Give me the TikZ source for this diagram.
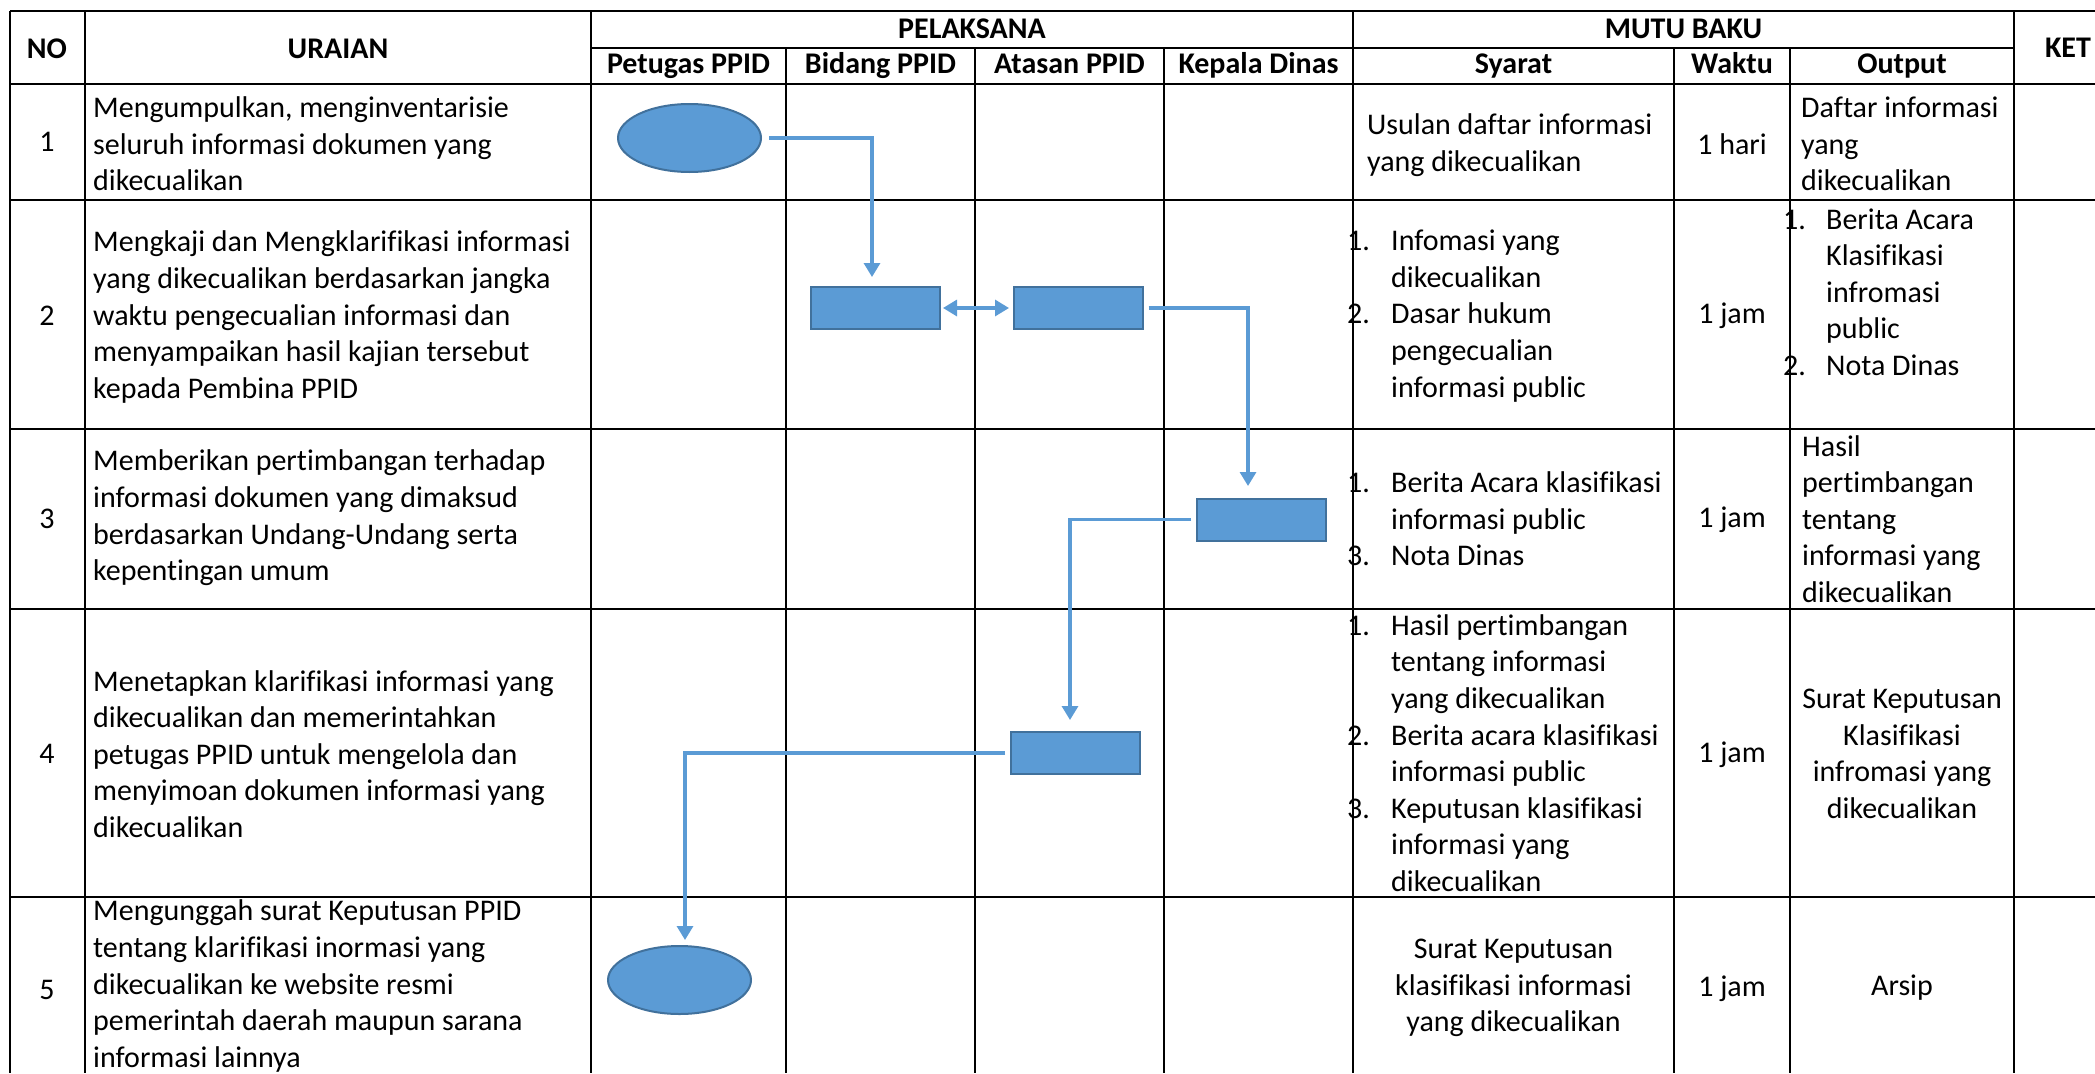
\documentclass[tikz,border=0pt]{standalone}
\usepackage{fontspec}
\setmainfont{Carlito}[Ligatures=NoCommon]
\usetikzlibrary{shapes.geometric,arrows.meta}
\definecolor{boxfill}{HTML}{5B9BD5}
\definecolor{boxline}{HTML}{41719C}
\newcommand\itemno[1]{\makebox[44pt][l]{#1}}
\newcommand\itemind{\hspace*{44pt}}
\begin{document}
\begin{tikzpicture}[x=1pt,y=-1pt,
  txt/.style={font=\fontsize{30}{36.6}\selectfont, inner sep=0pt, align=left, anchor=west},
  ctxt/.style={font=\fontsize{30}{36.6}\selectfont, inner sep=0pt, align=center},
  hdr/.style={font=\fontsize{30}{36.6}\selectfont\bfseries, inner sep=0pt, anchor=base},
  gridline/.style={line width=2pt, black},
  oval/.style={ellipse, draw=boxline, fill=boxfill, line width=2pt, minimum width=143pt, minimum height=68pt, inner sep=0pt},
  stepbox/.style={rectangle, draw=boxline, fill=boxfill, line width=2pt, minimum width=129pt, minimum height=42pt, inner sep=0pt},
  conn/.style={draw=boxfill, line width=3.2pt, -{Triangle[width=16pt,length=14pt]}},
]
\useasboundingbox (0,0) rectangle (2095,1073);
\fill[white] (0,0) rectangle (2095,1073);

% header
\node[hdr] (hNO) at (47,59) {NO};
\node[hdr] (hUR) at (338,59) {URAIAN};
\node[hdr] (hPL) at (972,38) {PELAKSANA};
\node[hdr] (hMB) at (1683.5,38) {MUTU BAKU};
\node[hdr] (hKET) at (2068,57) {KET};
\node[hdr] (hP1) at (688.5,74) {Petugas PPID};
\node[hdr] (hP2) at (880.5,74) {Bidang PPID};
\node[hdr] (hP3) at (1069.5,74) {Atasan PPID};
\node[hdr] (hP4) at (1258.5,74) {Kepala Dinas};
\node[hdr] (hM1) at (1513.5,74) {Syarat};
\node[hdr] (hM2) at (1732,74) {Waktu};
\node[hdr] (hM3) at (1902,74) {Output};

% numbers
\node[ctxt] (n1) at (47,142) {1};
\node[ctxt] (n2) at (47,316) {2};
\node[ctxt] (n3) at (47,519) {3};
\node[ctxt] (n4) at (47,754) {4};
\node[ctxt] (n5) at (47,990) {5};

% uraian
\node[txt] (u1) at (93,144) {Mengumpulkan, menginventarisie\\seluruh informasi dokumen yang\\dikecualikan};
\node[txt] (u2) at (93,317) {Mengkaji dan Mengklarifikasi informasi\\yang dikecualikan berdasarkan jangka\\waktu pengecualian informasi dan\\menyampaikan hasil kajian tersebut\\kepada Pembina PPID};
\node[txt] (u3) at (93,518) {Memberikan pertimbangan terhadap\\informasi dokumen yang dimaksud\\berdasarkan Undang-Undang serta\\kepentingan umum};
\node[txt] (u4) at (93,754) {Menetapkan klarifikasi informasi yang\\dikecualikan dan memerintahkan\\petugas PPID untuk mengelola dan\\menyimoan dokumen informasi yang\\dikecualikan};
\node[txt] (u5) at (93,986) {Mengunggah surat Keputusan PPID\\tentang klarifikasi inormasi yang\\dikecualikan ke website resmi\\pemerintah daerah maupun sarana\\informasi lainnya};

% syarat
\node[txt] (s1) at (1367,145) {Usulan daftar informasi\\yang dikecualikan};
\node[txt] (s2) at (1347,316) {\itemno{1.}Infomasi yang\\\itemind dikecualikan\\\itemno{2.}Dasar hukum\\\itemind pengecualian\\\itemind informasi public};
\node[txt] (s3) at (1347,519) {\itemno{1.}Berita Acara klasifikasi\\\itemind informasi public\\\itemno{3.}Nota Dinas};
\node[txt] (s4) at (1347,753) {\itemno{1.}Hasil pertimbangan\\\itemind tentang informasi\\\itemind yang dikecualikan\\\itemno{2.}Berita acara klasifikasi\\\itemind informasi public\\\itemno{3.}Keputusan klasifikasi\\\itemind informasi yang\\\itemind dikecualikan};
\node[ctxt] (s5) at (1513.5,988) {Surat Keputusan\\klasifikasi informasi\\yang dikecualikan};

% waktu
\node[ctxt] (w1) at (1732,144) {1 hari};
\node[ctxt] (w2) at (1732,316) {1 jam};
\node[ctxt] (w3) at (1732,520) {1 jam};
\node[ctxt] (w4) at (1732,755) {1 jam};
\node[ctxt] (w5) at (1732,989) {1 jam};

% output
\node[txt] (o1) at (1801,144) {Daftar informasi\\yang\\dikecualikan};
\node[txt] (o2) at (1783,292) {\makebox[43pt][l]{1.}Berita Acara\\\hspace*{43pt}Klasifikasi\\\hspace*{43pt}infromasi\\\hspace*{43pt}public\\\makebox[43pt][l]{2.}Nota Dinas};
\node[txt] (o3) at (1802,519) {Hasil\\pertimbangan\\tentang\\informasi yang\\dikecualikan};
\node[ctxt] (o4) at (1902,754) {Surat Keputusan\\Klasifikasi\\infromasi yang\\dikecualikan};
\node[ctxt] (o5) at (1902,988) {Arsip};

% grid
\draw[gridline] (10,11) -- (2095,11);
\draw[gridline] (591,48) -- (2014,48);
\foreach \y in {84,200,429,609,897} \draw[gridline] (10,\y) -- (2095,\y);
\foreach \x in {10,85,591,1353,2014} \draw[gridline] (\x,11) -- (\x,1073);
\foreach \x in {786,975,1164,1674,1790} \draw[gridline] (\x,48) -- (\x,1073);

% flow shapes
\node[oval] (e1) at (689.5,138) {};
\node[stepbox] (rA) at (875.5,308) {};
\node[stepbox] (rB) at (1078,308) {};
\node[stepbox] (rC) at (1261.5,519.5) {};
\node[stepbox] (rD) at (1075.5,753) {};
\node[oval] (e2) at (679.5,980) {};

% connectors
\draw[conn, shorten >=9pt] ([xshift=7pt]e1.east) -| ([xshift=-3.5pt]rA.north);
\draw[conn, {Triangle[width=16pt,length=14pt]}-{Triangle[width=16pt,length=14pt]}, shorten <=2pt, shorten >=3.5pt] (rA.east) -- (rB.west);
\draw[conn, shorten >=11.5pt] ([xshift=5pt]rB.east) -| ([xshift=-13.5pt]rC.north);
\draw[conn, shorten >=11pt] ([xshift=-5pt]rC.west) -| ([xshift=-5.5pt]rD.north);
\draw[conn, shorten >=5pt] ([xshift=-5pt]rD.west) -| ([xshift=5.5pt]e2.north);
\end{tikzpicture}
\end{document}
